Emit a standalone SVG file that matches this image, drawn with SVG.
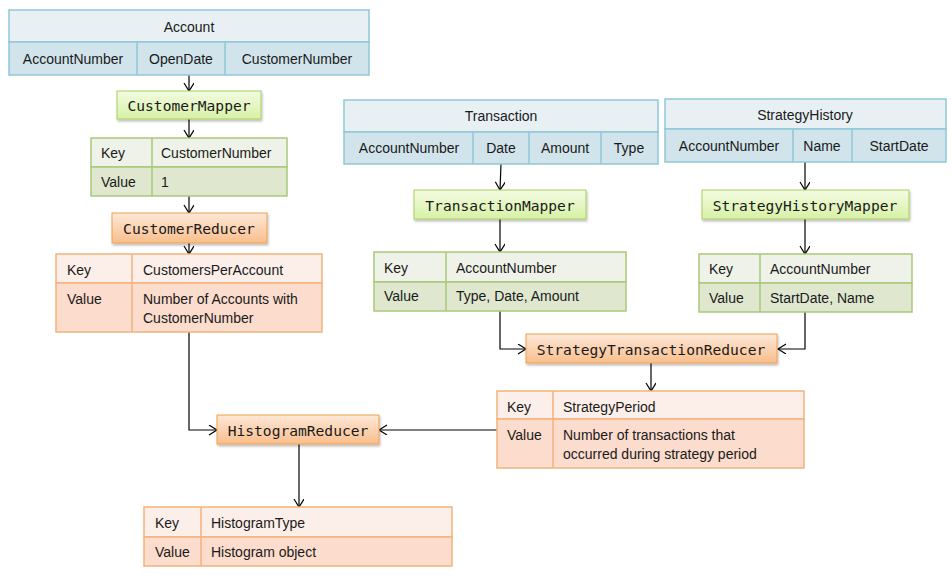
<svg xmlns="http://www.w3.org/2000/svg" width="952" height="579" viewBox="0 0 952 579">
<style>
text{font-family:"Liberation Sans",Arial,sans-serif;font-size:14px;fill:#1a1a1a;dominant-baseline:central}
.c{text-anchor:middle}
.mono{font-family:"DejaVu Sans Mono","Liberation Mono",monospace;font-size:14.6px;text-anchor:middle}
.bh{fill:#e8f0f4;stroke:#8fc7d8;stroke-width:1.5}
.br{fill:#d1e3eb;stroke:#8fc7d8;stroke-width:1.5}
.bl{stroke:#8fc7d8;stroke-width:1.5}
.gk{fill:#eff2e8;stroke:#a9c97a;stroke-width:1.5}
.gv{fill:#dfe7cf;stroke:#a9c97a;stroke-width:1.5}
.gl{stroke:#a9c97a;stroke-width:1.5}
.ok{fill:#fcefe9;stroke:#f5b27c;stroke-width:1.5}
.ov{fill:#fbdccd;stroke:#f5b27c;stroke-width:1.5}
.ol{stroke:#f5b27c;stroke-width:1.5}
.gm{fill:url(#gg);stroke:#a6cf5e;stroke-width:1;filter:url(#sh)}
.om{fill:url(#og);stroke:#f0a050;stroke-width:1;filter:url(#sh)}
.cn{fill:none;stroke:#000;stroke-width:1.2;marker-end:url(#ah)}
</style>
<defs>
<linearGradient id="gg" x1="0" y1="0" x2="0" y2="1"><stop offset="0" stop-color="#f3fbe2"/><stop offset="1" stop-color="#d7f1a6"/></linearGradient>
<linearGradient id="og" x1="0" y1="0" x2="0" y2="1"><stop offset="0" stop-color="#fde8d8"/><stop offset="1" stop-color="#f9be8c"/></linearGradient>
<filter id="sh" x="-10%" y="-20%" width="120%" height="160%"><feDropShadow dx="1" dy="2" stdDeviation="1.2" flood-color="#000" flood-opacity="0.25"/></filter>
<marker id="ah" markerUnits="userSpaceOnUse" markerWidth="12" markerHeight="12" refX="9" refY="5" orient="auto"><path d="M1,0 L9,5 L1,10" fill="none" stroke="#000" stroke-width="1.2"/></marker>
</defs>

<g id="connectors">
<line class="cn" x1="189" y1="75" x2="189" y2="91"/>
<line class="cn" x1="189" y1="119" x2="189" y2="138"/>
<line class="cn" x1="189" y1="196" x2="189" y2="213"/>
<line class="cn" x1="189" y1="243" x2="189" y2="254"/>
<polyline class="cn" points="189,332 189,430 217,430"/>
<line class="cn" x1="501" y1="164" x2="500" y2="190"/>
<line class="cn" x1="500" y1="219" x2="500" y2="252"/>
<polyline class="cn" points="500,311 500,349 526,349"/>
<line class="cn" x1="805" y1="162" x2="805" y2="190"/>
<line class="cn" x1="805" y1="219" x2="805" y2="254"/>
<polyline class="cn" points="805,312 805,349 778,349"/>
<line class="cn" x1="651" y1="363" x2="651" y2="391"/>
<line class="cn" x1="497" y1="430" x2="379" y2="430"/>
<line class="cn" x1="299" y1="444" x2="299" y2="507"/>
</g>

<g id="account">
<rect class="bh" x="9" y="10" width="360" height="32"/>
<rect class="br" x="9" y="42" width="360" height="33"/>
<line class="bl" x1="137" y1="42" x2="137" y2="75"/>
<line class="bl" x1="225" y1="42" x2="225" y2="75"/>
<text class="c" x="189" y="27">Account</text>
<text class="c" x="73" y="59">AccountNumber</text>
<text class="c" x="181" y="59">OpenDate</text>
<text class="c" x="297" y="59">CustomerNumber</text>
</g>

<g id="customerMapper">
<rect class="gm" x="117" y="91" width="144" height="28"/>
<text class="mono" x="189" y="105">CustomerMapper</text>
</g>

<g id="customerMapperOutput">
<rect class="gk" x="91" y="138" width="196" height="29"/>
<rect class="gv" x="91" y="167" width="196" height="29"/>
<line class="gl" x1="152" y1="138" x2="152" y2="196"/>
<text x="101" y="153">Key</text>
<text x="161" y="153">CustomerNumber</text>
<text x="101" y="182">Value</text>
<text x="161" y="182">1</text>
</g>

<g id="customerReducer">
<rect class="om" x="112" y="213" width="155" height="30"/>
<text class="mono" x="189" y="228">CustomerReducer</text>
</g>

<g id="customerReducerOutput">
<rect class="ok" x="56" y="254" width="266" height="29"/>
<rect class="ov" x="56" y="283" width="266" height="49"/>
<line class="ol" x1="132" y1="254" x2="132" y2="332"/>
<text x="67" y="270">Key</text>
<text x="143" y="270">CustomersPerAccount</text>
<text x="67" y="299">Value</text>
<text x="143" y="299">Number  of Accounts with</text>
<text x="143" y="318">CustomerNumber</text>
</g>

<g id="transaction">
<rect class="bh" x="344" y="100" width="314" height="32"/>
<rect class="br" x="344" y="132" width="314" height="32"/>
<line class="bl" x1="473" y1="132" x2="473" y2="164"/>
<line class="bl" x1="529" y1="132" x2="529" y2="164"/>
<line class="bl" x1="601" y1="132" x2="601" y2="164"/>
<text class="c" x="501" y="116">Transaction</text>
<text class="c" x="409" y="148">AccountNumber</text>
<text class="c" x="501" y="148">Date</text>
<text class="c" x="565" y="148">Amount</text>
<text class="c" x="629" y="148">Type</text>
</g>

<g id="transactionMapper">
<rect class="gm" x="414" y="190" width="172" height="29"/>
<text class="mono" x="500" y="205">TransactionMapper</text>
</g>

<g id="transactionMapperOutput">
<rect class="gk" x="374" y="252" width="252" height="30"/>
<rect class="gv" x="374" y="282" width="252" height="29"/>
<line class="gl" x1="446" y1="252" x2="446" y2="311"/>
<text x="384" y="268">Key</text>
<text x="456" y="268">AccountNumber</text>
<text x="384" y="296">Value</text>
<text x="456" y="296">Type, Date, Amount</text>
</g>

<g id="strategyHistory">
<rect class="bh" x="665" y="99" width="281" height="30"/>
<rect class="br" x="665" y="129" width="281" height="33"/>
<line class="bl" x1="793" y1="129" x2="793" y2="162"/>
<line class="bl" x1="852" y1="129" x2="852" y2="162"/>
<text class="c" x="805" y="115">StrategyHistory</text>
<text class="c" x="729" y="146">AccountNumber</text>
<text class="c" x="822" y="146">Name</text>
<text class="c" x="899" y="146">StartDate</text>
</g>

<g id="strategyHistoryMapper">
<rect class="gm" x="702" y="190" width="207" height="29"/>
<text class="mono" x="805" y="205">StrategyHistoryMapper</text>
</g>

<g id="strategyHistoryMapperOutput">
<rect class="gk" x="699" y="254" width="213" height="29"/>
<rect class="gv" x="699" y="283" width="213" height="29"/>
<line class="gl" x1="760" y1="254" x2="760" y2="312"/>
<text x="709" y="269">Key</text>
<text x="770" y="269">AccountNumber</text>
<text x="709" y="298">Value</text>
<text x="770" y="298">StartDate, Name</text>
</g>

<g id="strategyTransactionReducer">
<rect class="om" x="526" y="334" width="251" height="29"/>
<text class="mono" x="651" y="349">StrategyTransactionReducer</text>
</g>

<g id="strategyTransactionReducerOutput">
<rect class="ok" x="497" y="391" width="307" height="28"/>
<rect class="ov" x="497" y="419" width="307" height="49"/>
<line class="ol" x1="553" y1="391" x2="553" y2="468"/>
<text x="507" y="407">Key</text>
<text x="563" y="407">StrategyPeriod</text>
<text x="507" y="435">Value</text>
<text x="563" y="435">Number  of transactions that</text>
<text x="563" y="454">occurred during  strategy period</text>
</g>

<g id="histogramReducer">
<rect class="om" x="217" y="415" width="162" height="29"/>
<text class="mono" x="298" y="430">HistogramReducer</text>
</g>

<g id="histogramReducerOutput">
<rect class="ok" x="144" y="507" width="308" height="30"/>
<rect class="ov" x="144" y="537" width="308" height="29"/>
<line class="ol" x1="201" y1="507" x2="201" y2="566"/>
<text x="155" y="523">Key</text>
<text x="211" y="523">HistogramType</text>
<text x="155" y="552">Value</text>
<text x="211" y="552">Histogram object</text>
</g>
</svg>
